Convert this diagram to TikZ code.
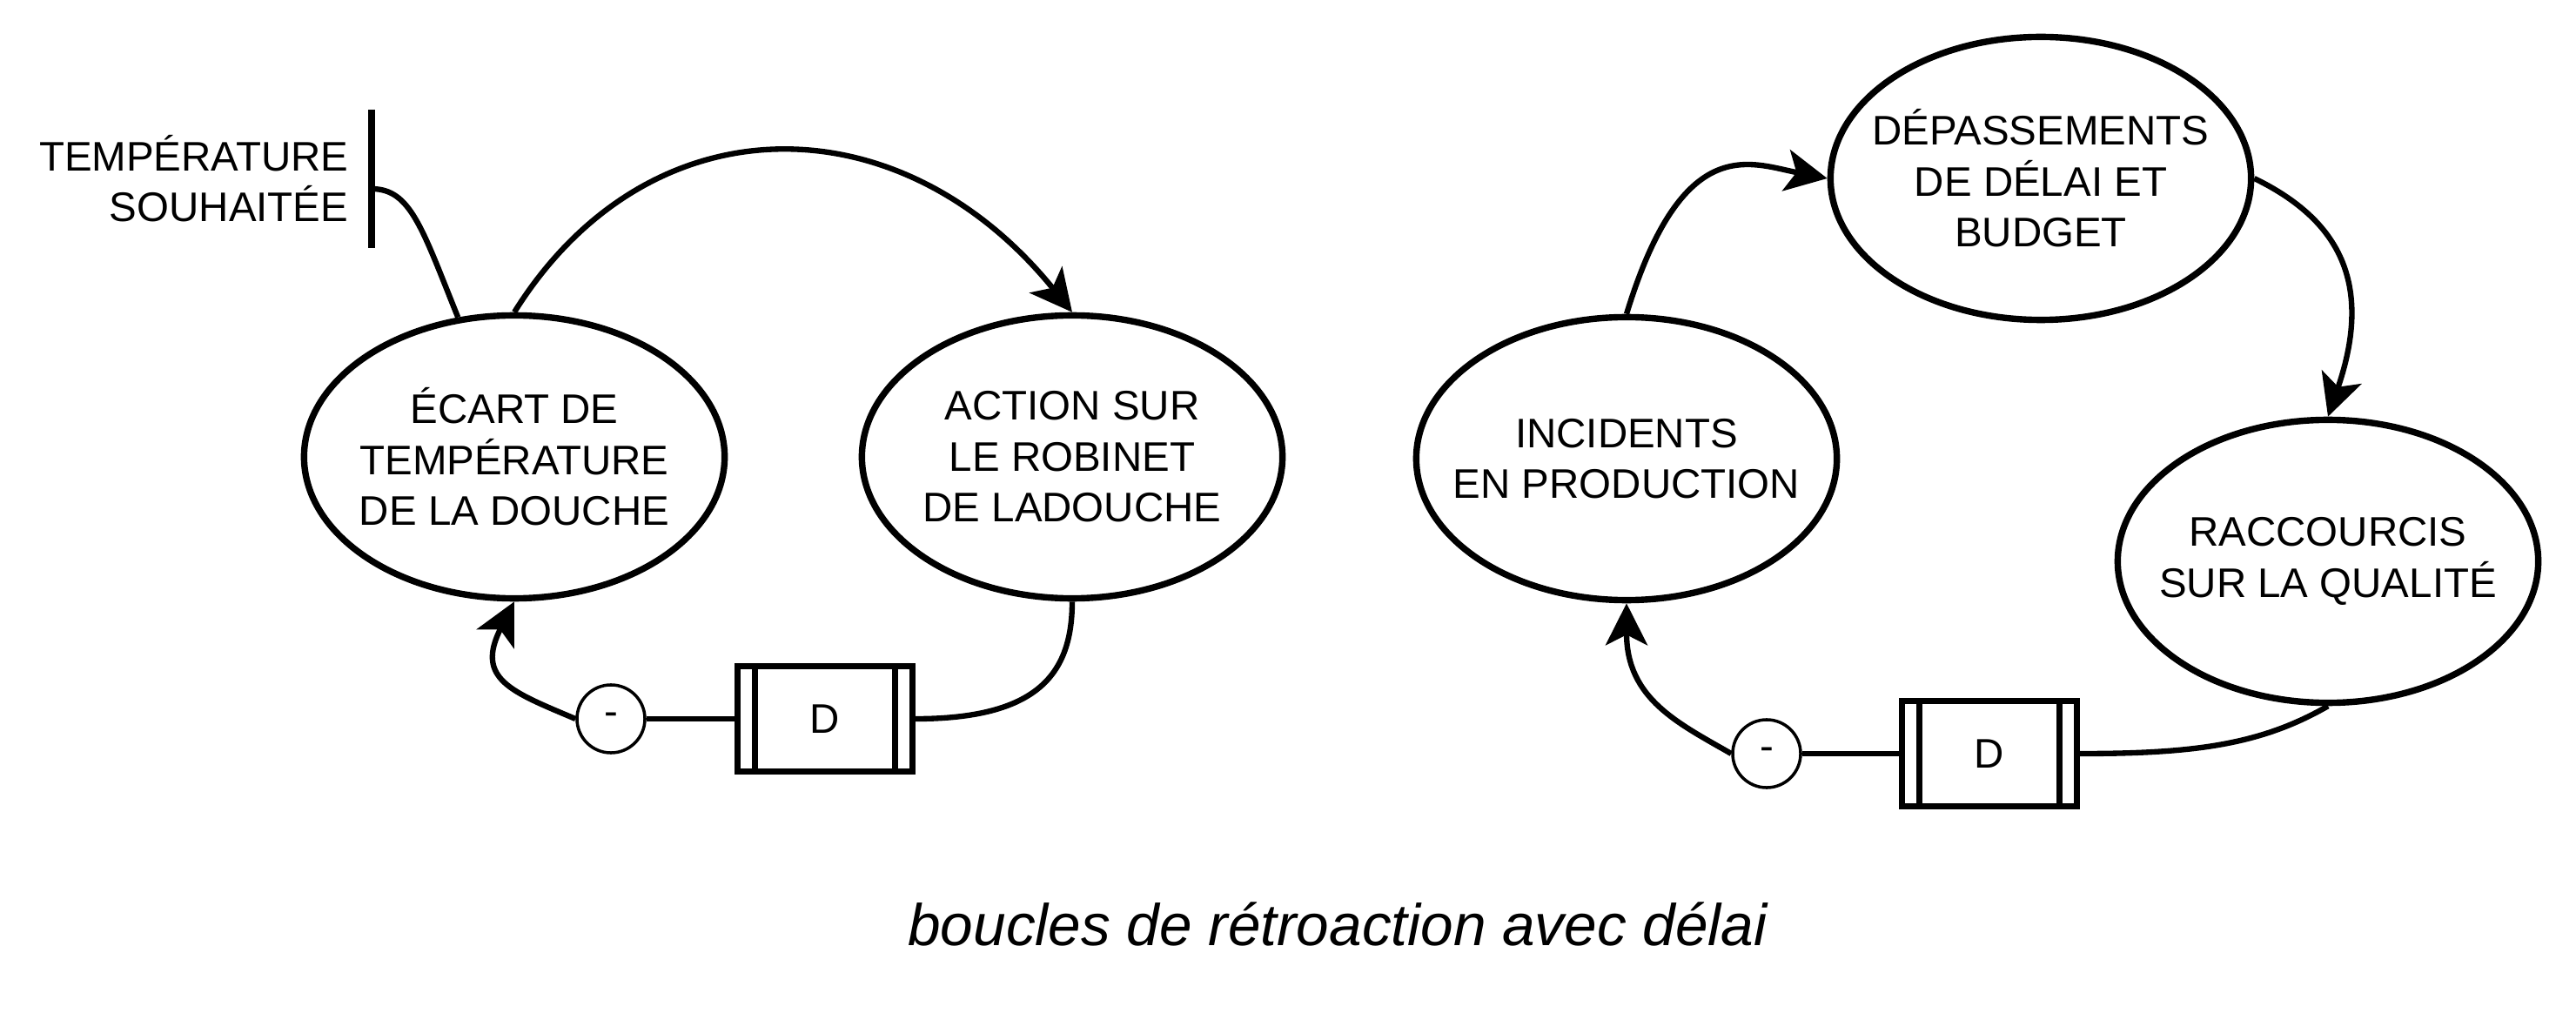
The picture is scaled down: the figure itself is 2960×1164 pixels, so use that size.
\documentclass[tikz,border=0pt]{standalone}
\usepackage{fontspec}
\setmainfont{Liberation Sans}
\usetikzlibrary{arrows.meta,shapes.geometric}

\begin{document}
\begin{tikzpicture}[x=0.01cm,y=0.01cm,
  every node/.style={font=\fontsize{13.5}{16.6}\selectfont, align=center},
  varnode/.style={ellipse, draw, line width=2.1pt, inner xsep=-5mm, inner ysep=0pt,
    minimum width=4.83cm, minimum height=3.25cm},
  signnode/.style={circle, draw, line width=1pt, inner sep=0pt, minimum size=0.78cm},
  delaybox/.style={rectangle, draw, line width=2pt, inner sep=0pt, minimum width=2cm, minimum height=1.2cm,
    path picture={\draw[line width=2pt]
      ([xshift=0.2cm]path picture bounding box.north west) -- ([xshift=0.2cm]path picture bounding box.south west)
      ([xshift=-0.2cm]path picture bounding box.north east) -- ([xshift=-0.2cm]path picture bounding box.south east);}},
  link/.style={line width=1.8pt},
  arrowlink/.style={link, -{Stealth[length=4.8mm,width=4.8mm,inset=1.2mm]}}]
  \useasboundingbox (0,0) rectangle (2960,-1164);

  % shower loop
  \node[anchor=east, align=right, inner sep=0pt] (goal) at (401,-205) {TEMPÉRATURE\\SOUHAITÉE};
  \coordinate (bartop) at (427,-126);
  \coordinate (barbot) at (427,-285);
  \coordinate (setpt) at (427,-217);
  \draw [line width=2pt] (bartop) -- (barbot);

  \node[varnode] (ecart) at (591,-525) {ÉCART DE\\TEMPÉRATURE\\DE LA DOUCHE};
  \node[varnode] (action) at (1232,-525) {ACTION SUR\\LE ROBINET\\DE LADOUCHE};
  \node[signnode] (minusL) at (702,-826) {-};
  \node[delaybox] (delayL) at (948,-826) {D};

  \draw [link] (setpt) .. controls +(45,0) and +(112:110) .. (ecart.112);
  \draw [arrowlink] (ecart.north) .. controls +(58:290) and +(129:315) .. (action.north);
  \draw [link] (action.south) .. controls +(0,-83) and +(141,0) .. (delayL.east);
  \draw [link] (delayL.west) -- (minusL.east);
  \draw [arrowlink] (minusL.west) .. controls +(157:80) and +(243:100) .. (ecart.south);

  % project loop
  \node[varnode] (incid) at (1869,-527) {INCIDENTS\\EN PRODUCTION};
  \node[varnode] (depass) at (2345,-205) {DÉPASSEMENTS\\DE DÉLAI ET\\BUDGET};
  \node[varnode] (racc) at (2675,-645) {RACCOURCIS\\SUR LA QUALITÉ};
  \node[signnode] (minusR) at (2030,-866) {-};
  \node[delaybox] (delayR) at (2286,-866) {D};

  \draw [arrowlink] (incid.north) .. controls +(73:220) and +(169:90) .. (depass.west);
  \draw [arrowlink] (depass.east) .. controls +(-26:100) and +(71:170) .. (racc.north);
  \draw [link] (racc.south) .. controls +(-150:90) and +(130,0) .. (delayR.east);
  \draw [link] (delayR.west) -- (minusR.east);
  \draw [arrowlink] (minusR.west) .. controls +(150:70) and +(0,-110) .. (incid.south);

  \node[font=\fontsize{19.2}{23}\selectfont\itshape] (caption) at (1537,-1062) {boucles de rétroaction avec délai};
\end{tikzpicture}
\end{document}
